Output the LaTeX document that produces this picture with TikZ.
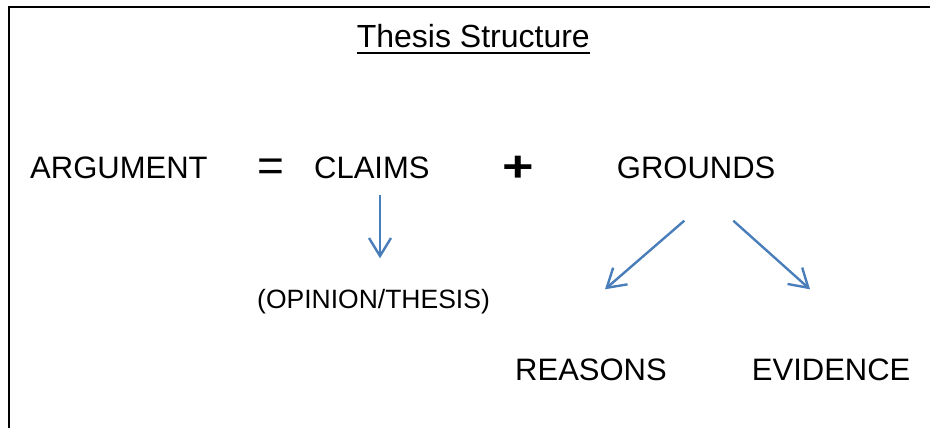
\documentclass[tikz,border=0pt]{standalone}
\usepackage{fontspec}
\setmainfont{Liberation Sans}
\usetikzlibrary{arrows.meta}
\definecolor{arrowblue}{HTML}{4A7EBB}
\tikzset{
  lbl/.style={anchor=base west, inner sep=0pt, font=\fontsize{31}{31}\selectfont},
  small/.style={anchor=base west, inner sep=0pt, font=\fontsize{26.5}{26.5}\selectfont},
  conn/.style={draw=arrowblue, line width=2.4pt, -{Straight Barb[length=18pt, width=22pt, line width=2.4pt]}},
  frame/.style={draw=black, line width=2pt}
}
\begin{document}
\begin{tikzpicture}[x=1pt, y=-1pt]
\useasboundingbox (0,0) rectangle (930,428);
\draw[frame] (8.5,440) -- (8.5,7.5) -- (940,7.5);
% title
\node[anchor=base, inner sep=0pt, font=\fontsize{32}{32}\selectfont] (title) at (473.3,47.7) {Thesis Structure};
\draw[line width=2pt] ([yshift=-5pt]title.base west) -- ([yshift=-5pt]title.base east);
% main row
\node[inner sep=0pt, font=\fontsize{46}{46}\selectfont] (eq) at (271.3,170) {=};
\node[lbl] (arg) at (30,178.3) {ARGUMENT};
\node[lbl] (claims) at (314,178.3) {CLAIMS};
\node[inner sep=0pt, font=\bfseries\fontsize{54}{54}\selectfont, yscale=0.8] (plus) at (518,168.5) {+};
\node[lbl] (grounds) at (616.7,178.3) {GROUNDS};
\node[small] (opinion) at (257,308.5) {(OPINION/THESIS)};
\node[lbl] (reasons) at (515,380) {REASONS};
\node[lbl] (evidence) at (751.7,380) {EVIDENCE};
% arrow anchors
\coordinate (c1) at (380,195);
\coordinate (c2) at (380,258.3);
\coordinate (g1) at (684.3,220.7);
\coordinate (g2) at (605,289.3);
\coordinate (g3) at (733.3,220.7);
\coordinate (g4) at (810,289.3);
\draw[conn] (c1) -- (c2);
\draw[conn] (g1) -- (g2);
\draw[conn] (g3) -- (g4);
\end{tikzpicture}
\end{document}
